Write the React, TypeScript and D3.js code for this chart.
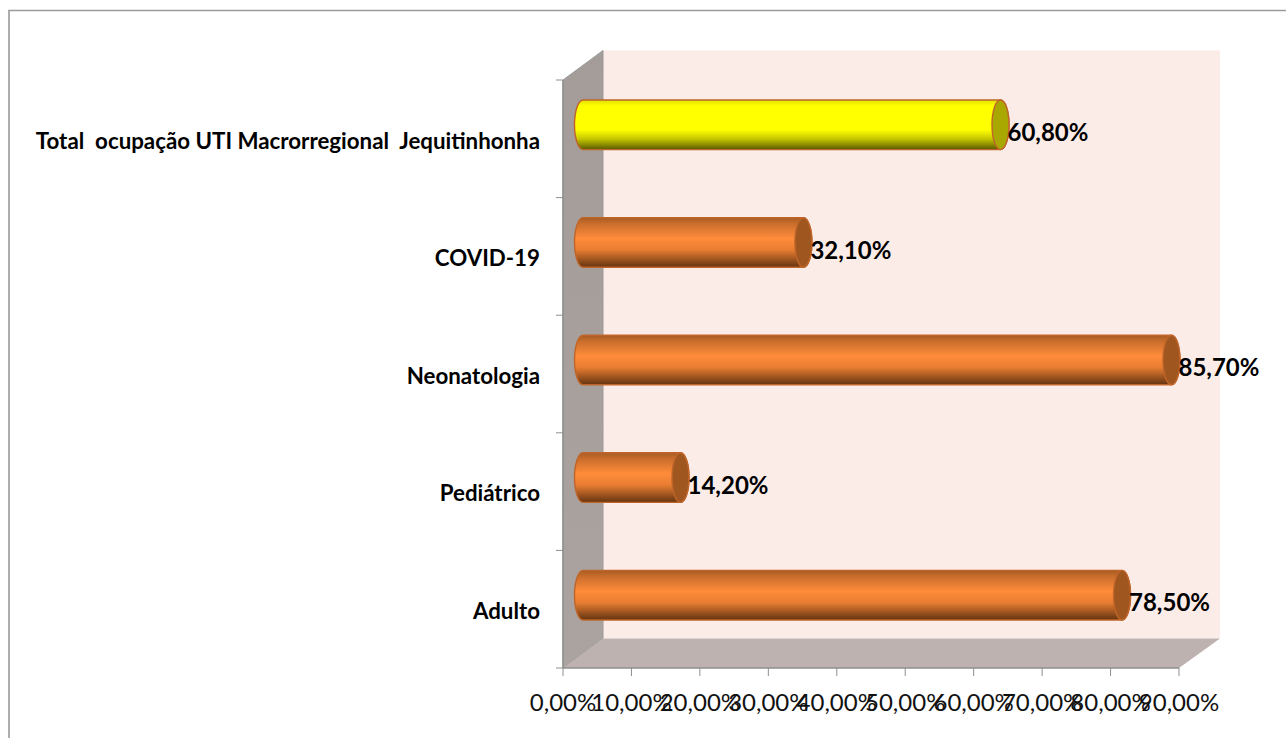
import React from "react";
import * as d3 from "d3";

const categories = ["Adulto", "Pediátrico", "Neonatologia", "COVID-19", "Total  ocupação UTI Macrorregional  Jequitinhonha"];
const values = [78.5, 14.2, 85.7, 32.1, 60.8];
const valueLabels = ["78,50%", "14,20%", "85,70%", "32,10%", "60,80%"];
const highlighted = [false, false, false, false, true];
const xTicks = [0, 10, 20, 30, 40, 50, 60, 70, 80, 90];

const W = 1286, H = 738;
const front = { left: 563, right: 1179, top: 80, bottom: 668 };
const dx = 40, dy = -29.5;
const barX0 = 583;
const ry = 24.8, rx = 8.5;

const x = d3.scaleLinear().domain([0, 90]).range([front.left, front.right]);
const y = d3.scaleBand<number>().domain([4, 3, 2, 1, 0]).range([front.top, front.bottom]);
const barLen = d3.scaleLinear().domain([0, 90]).range([barX0, barX0 + 618]);

const FONT = "Lato, 'Open Sans', sans-serif";

function Bar({ i }: { i: number }) {
  const cy = y(i)! + y.bandwidth() / 2 - 14;
  const xr = barLen(values[i]);
  const yellow = highlighted[i];
  const body = `M${barX0},${cy - ry} L${xr},${cy - ry} A${rx},${ry} 0 0 1 ${xr},${cy + ry} L${barX0},${cy + ry} A${rx},${ry} 0 0 1 ${barX0},${cy - ry} Z`;
  return (
    <g>
      <path d={body} fill={yellow ? "url(#gradY)" : "url(#gradO)"} stroke="#c0652a" strokeWidth={1.4} />
      <ellipse cx={xr} cy={cy} rx={rx} ry={ry} fill={yellow ? "#a8a800" : "#a0571f"} stroke="#c0652a" strokeWidth={1.4} />
      <text x={xr + rx - 1.5} y={cy + 10} dominantBaseline="middle" fontFamily={FONT} fontWeight={700} fontSize={24} fill="#000">{valueLabels[i]}</text>
      <text x={540} y={cy + 18} textAnchor="end" dominantBaseline="middle" fontFamily={FONT} fontWeight={700} fontSize={22.3} fill="#000" style={{ whiteSpace: "pre" }}>{categories[i]}</text>
    </g>
  );
}

export default function App() {
  const { left, right, top, bottom } = front;
  const yTicks = [0, 1, 2, 3, 4].map((i) => y(i)! + y.bandwidth()).concat([y(4)!]);
  return (
    <svg width={W} height={H} viewBox={`0 0 ${W} ${H}`} style={{ position: "fixed", left: 0, top: 0, background: "#fff" }}>
      <defs>
        <linearGradient id="gradO" x1="0" y1="0" x2="0" y2="1">
          <stop offset="0" stopColor="#a85c24" />
          <stop offset="0.12" stopColor="#c96d2c" />
          <stop offset="0.42" stopColor="#ff8c3a" />
          <stop offset="0.65" stopColor="#e87d32" />
          <stop offset="1" stopColor="#643410" />
        </linearGradient>
        <linearGradient id="gradY" x1="0" y1="0" x2="0" y2="1">
          <stop offset="0" stopColor="#e0e000" />
          <stop offset="0.12" stopColor="#ffff00" />
          <stop offset="0.6" stopColor="#ffff00" />
          <stop offset="0.78" stopColor="#c8c800" />
          <stop offset="1" stopColor="#5a5a00" />
        </linearGradient>
        <linearGradient id="gradWall" x1="0" y1="0" x2="0" y2="1">
          <stop offset="0" stopColor="#a39c98" />
          <stop offset="1" stopColor="#aaa3a0" />
        </linearGradient>
      </defs>
      <path d={`M9,${H} L9,10.5 L${W},10.5`} fill="none" stroke="#9a9a9a" strokeWidth={1.6} />
      <rect x={left + dx} y={top + dy} width={right - left + 1} height={bottom - top} fill="#fcece8" />
      <path d={`M${left},${top} L${left + dx},${top + dy} L${left + dx},${bottom + dy} L${left},${bottom} Z`} fill="url(#gradWall)" stroke="#9a9a9a" strokeWidth={1} />
      <path d={`M${left},${bottom} L${left + dx},${bottom + dy} L${right + dx + 1},${bottom + dy} L${right},${bottom} Z`} fill="#bdb2b0" />
      <line x1={left} x2={right} y1={bottom} y2={bottom} stroke="#8f8f8f" strokeWidth={1.5} />
      <line x1={left} x2={left} y1={top} y2={bottom} stroke="#8f8f8f" strokeWidth={1.5} />
      {yTicks.map((t, k) => (
        <line key={k} x1={left - 7} x2={left} y1={t} y2={t} stroke="#8f8f8f" strokeWidth={1} />
      ))}
      {xTicks.map((t) => (
        <g key={t}>
          <line x1={x(t)} x2={x(t)} y1={bottom} y2={bottom + 8} stroke="#8f8f8f" strokeWidth={1} />
          <text x={x(t)} y={704.5} textAnchor="middle" dominantBaseline="middle" fontFamily={FONT} fontWeight={400} fontSize={24} fill="#111">{`${t},00%`}</text>
        </g>
      ))}
      {[4, 3, 2, 1, 0].map((i) => <Bar key={i} i={i} />)}
    </svg>
  );
}
